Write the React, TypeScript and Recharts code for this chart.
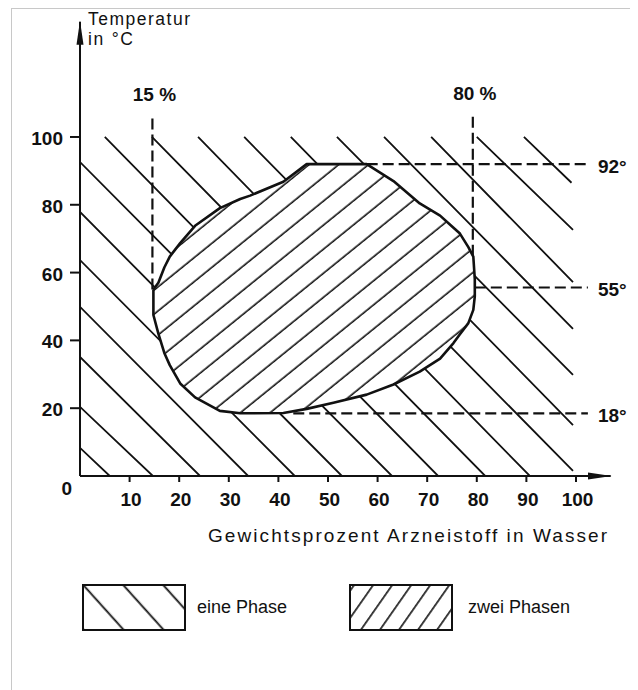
import React from 'react';
import { ComposedChart, Line, Area, XAxis, YAxis, ReferenceLine, Legend } from 'recharts';

// ---- data ----
const xTicks = [10, 20, 30, 40, 50, 60, 70, 80, 90, 100];
const yTicks = [0, 20, 40, 60, 80, 100];

// "eine Phase" hatch strokes: [x1, y1, x2, y2] in data units
const onePhaseHatch: number[][] = [
  [0, 8.3, 6.0, 0],
  [0, 20.4, 14.7, 0],
  [0, 35.1, 24.2, 0],
  [0, 49.9, 33.9, 0],
  [0, 63.7, 43.3, 0],
  [0, 77.9, 52.8, 0],
  [0, 92.6, 62.9, 0],
  [5.0, 100, 72.2, 0],
  [14.5, 100, 81.7, 0],
  [23.8, 100, 90.7, 0],
  [33.1, 100, 99.4, 1.5],
  [42.5, 100, 99.4, 15.0],
  [51.8, 100, 99.4, 29.8],
  [61.3, 100, 99.4, 43.4],
  [70.8, 100, 99.4, 57.2],
  [80.0, 100, 99.4, 72.6],
  [89.5, 100, 99.1, 86.5],
];

// "zwei Phasen" region boundary
const curveX = [14.8, 15.8, 17.0, 18.1, 20.2, 23.2, 28.2, 32.3, 34.3, 41.0, 45.7, 51.1, 57.8, 63.2, 68.5, 72.6, 75.3, 76.6, 78.3, 79.3, 79.6];
const curveUpper = [55, 57, 61.5, 64.7, 68.7, 73.8, 79, 81.7, 82.7, 86.8, 92, 92, 92, 87.0, 80.4, 76.8, 73.2, 71.5, 67.5, 64.7, 58];
const curveLower = [47.5, 42, 36.3, 32.7, 27.3, 23.2, 19.2, 18.5, 18.5, 18.6, 19.8, 21.6, 24.0, 27.0, 30.8, 34.6, 39.2, 41.8, 45.1, 49, 53];

const vMarkers = [
  { x: 14.6, from: 55, to: 105.5, label: '15 %' },
  { x: 79.2, from: 65, to: 106, label: '80 %' },
];
const hMarkers = [
  { y: 92, from: 57.8, to: 102.4, label: '92°' },
  { y: 55.6, from: 79.6, to: 102.4, label: '55°' },
  { y: 18.5, from: 43, to: 102.4, label: '18°' },
];

const legendItems = ['eine Phase', 'zwei Phasen'];
const xTitle = 'Gewichtsprozent Arzneistoff in Wasser';
const yTitle = ['Temperatur', 'in °C'];

// ---- derived tables for the library ----
const hatchData = onePhaseHatch.flatMap(([x1, y1, x2, y2]) => [
  { x: x1, y: y1 },
  { x: x2, y: y2 },
  { x: x2, y: null },
]);
const bandData = curveX.map((x, i) => ({ x, band: [curveLower[i], curveUpper[i]] }));
const outlineData = [
  ...curveX.map((x, i) => ({ x, y: curveUpper[i] })),
  ...curveX.map((x, i) => ({ x, y: curveLower[i] })).reverse(),
  { x: curveX[0], y: curveUpper[0] },
];

const INK = '#111';
const FONT = "'Liberation Sans', Arial, sans-serif";

const YTick = (props: any) => {
  const { x, y, payload } = props;
  const v = payload.value;
  if (v === 0) {
    return (
      <text x={x + 8} y={y + 19} textAnchor="end" fontSize={19} fontWeight="bold" fill={INK} fontFamily={FONT}>
        0
      </text>
    );
  }
  return (
    <g>
      <line x1={x + 6} y1={y} x2={x + 16} y2={y} stroke={INK} strokeWidth={2} />
      <text x={x - 1} y={y + 8} textAnchor="end" fontSize={19} fontWeight="bold" fill={INK} fontFamily={FONT}>
        {v}
      </text>
    </g>
  );
};

const XTick = (props: any) => {
  const { x, y, payload } = props;
  return (
    <text x={x + 1.5} y={y + 22} textAnchor="middle" fontSize={19} fontWeight="bold" fill={INK} fontFamily={FONT}>
      {payload.value}
    </text>
  );
};

const renderLegend = () => (
  <div style={{ display: 'flex', alignItems: 'center', fontSize: 18, color: INK, fontFamily: FONT }}>
    {legendItems.map((name, i) => (
      <div key={name} style={{ display: 'flex', alignItems: 'center', width: i === 0 ? 267 : 240 }}>
        <svg width={104} height={47} style={{ display: 'block' }}>
          <defs>
            {i === 0 ? (
              <pattern id="legOne" patternUnits="userSpaceOnUse" width={29.7} height={20} patternTransform="rotate(-42)">
                <line x1={0.3} y1={-1} x2={0.3} y2={21} stroke={INK} strokeWidth={1.8} />
                <line x1={30} y1={-1} x2={30} y2={21} stroke={INK} strokeWidth={1.8} />
              </pattern>
            ) : (
              <pattern id="legTwo" patternUnits="userSpaceOnUse" width={15.6} height={20} patternTransform="rotate(35)">
                <line x1={4.8} y1={-1} x2={4.8} y2={21} stroke={INK} strokeWidth={1.6} />
              </pattern>
            )}
          </defs>
          <rect x={1} y={1} width={102} height={45} fill="#fff" />
          <rect x={1} y={1} width={102} height={45} fill={i === 0 ? 'url(#legOne)' : 'url(#legTwo)'} stroke={INK} strokeWidth={2} />
        </svg>
        <span style={{ marginLeft: i === 0 ? 11 : 15 }}>{name}</span>
      </div>
    ))}
  </div>
);

export default function App() {
  return (
    <div style={{ position: 'relative', width: 630, height: 682, fontFamily: FONT, background: '#fff' }}>
      <div
        style={{
          position: 'absolute',
          left: 3,
          top: 0,
          right: 0,
          bottom: 0,
          borderLeft: '1px solid #c8c8c8',
          borderTop: '1px solid #c8c8c8',
        }}
      />
      <div style={{ position: 'absolute', left: 0, top: 0 }}>
        <ComposedChart width={630} height={682} margin={{ top: 13.7, right: 27.3, bottom: 184, left: 0 }}>
          <defs>
            <pattern id="twoPhase" patternUnits="userSpaceOnUse" width={18.7} height={20} patternTransform="rotate(51)">
              <rect x={0} y={0} width={18.7} height={20} fill="#fff" />
              <line x1={12} y1={-1} x2={12} y2={21} stroke={INK} strokeWidth={1.6} />
            </pattern>
            <marker
              id="arrowHead"
              markerUnits="userSpaceOnUse"
              markerWidth={24}
              markerHeight={10}
              viewBox="0 0 24 10"
              refX={23}
              refY={5}
              orient="auto-start-reverse"
            >
              <path d="M0,1.5 L24,5 L0,8.5 Z" fill={INK} />
            </marker>
          </defs>
          <XAxis
            type="number"
            dataKey="x"
            domain={[0, 107]}
            ticks={xTicks}
            height={30}
            tickSize={6}
            tickMargin={2}
            tick={<XTick />}
            tickLine={{ stroke: INK, strokeWidth: 2 }}
            axisLine={{ stroke: INK, strokeWidth: 2, markerEnd: 'url(#arrowHead)' }}
            allowDataOverflow
            label={(p: any) => (
              <text
                x={p.viewBox.x + 128}
                y={p.viewBox.y + 65.7}
                fontSize={19}
                fill={INK}
                fontFamily={FONT}
                textLength={399}
                lengthAdjust="spacing"
              >
                {xTitle}
              </text>
            )}
          />
          <YAxis
            type="number"
            domain={[0, 134]}
            ticks={yTicks}
            width={72}
            tickSize={10}
            tickMargin={6}
            tickLine={false}
            tick={<YTick />}
            axisLine={{ stroke: INK, strokeWidth: 2, markerStart: 'url(#arrowHead)' }}
            allowDataOverflow
            label={(p: any) => (
              <g>
                <text x={p.viewBox.x + p.viewBox.width + 8} y={p.viewBox.y + 3.3} fontSize={17.5} fill={INK} fontFamily={FONT} textLength={102} lengthAdjust="spacing">
                  {yTitle[0]}
                </text>
                <text x={p.viewBox.x + p.viewBox.width + 8} y={p.viewBox.y + 23.5} fontSize={17.5} fill={INK} fontFamily={FONT} textLength={45} lengthAdjust="spacing">
                  {yTitle[1]}
                </text>
              </g>
            )}
          />
          <Line
            data={hatchData}
            dataKey="y"
            type="linear"
            stroke={INK}
            strokeWidth={1.8}
            dot={false}
            activeDot={false}
            connectNulls={false}
            isAnimationActive={false}
            legendType="none"
            name="eine Phase"
          />
          <Area
            data={bandData}
            dataKey="band"
            type="linear"
            stroke="none"
            fill="url(#twoPhase)"
            fillOpacity={1}
            dot={false}
            activeDot={false}
            isAnimationActive={false}
            name="zwei Phasen"
            zIndex={450}
          />
          <Line
            data={outlineData}
            dataKey="y"
            type="linear"
            stroke={INK}
            strokeWidth={2.6}
            strokeLinejoin="round"
            dot={false}
            activeDot={false}
            isAnimationActive={false}
            legendType="none"
            zIndex={460}
          />
          {vMarkers.map((m) => (
            <ReferenceLine
              key={m.label}
              segment={[
                { x: m.x, y: m.from },
                { x: m.x, y: m.to },
              ]}
              stroke={INK}
              strokeWidth={2.2}
              strokeDasharray="11 5"
              label={(p: any) => (
                <text
                  x={p.viewBox.x + 2}
                  y={p.viewBox.y - 17}
                  textAnchor="middle"
                  fontSize={19}
                  fontWeight="bold"
                  fill={INK}
                  fontFamily={FONT}
                >
                  {m.label}
                </text>
              )}
            />
          ))}
          {hMarkers.map((m) => (
            <ReferenceLine
              key={m.label}
              segment={[
                { x: m.from, y: m.y },
                { x: m.to, y: m.y },
              ]}
              stroke={INK}
              strokeWidth={2.2}
              strokeDasharray="11 5"
              label={(p: any) => (
                <text
                  x={p.viewBox.x + p.viewBox.width + 10}
                  y={p.viewBox.y + 8.5}
                  textAnchor="start"
                  fontSize={19}
                  fontWeight="bold"
                  fill={INK}
                  fontFamily={FONT}
                >
                  {m.label}
                </text>
              )}
            />
          ))}
          <Legend
            content={renderLegend}
            layout="horizontal"
            verticalAlign="middle"
            align="center"
            width={560}
            wrapperStyle={{ left: 74, top: 576, width: 560 }}
          />
        </ComposedChart>
      </div>
    </div>
  );
}
